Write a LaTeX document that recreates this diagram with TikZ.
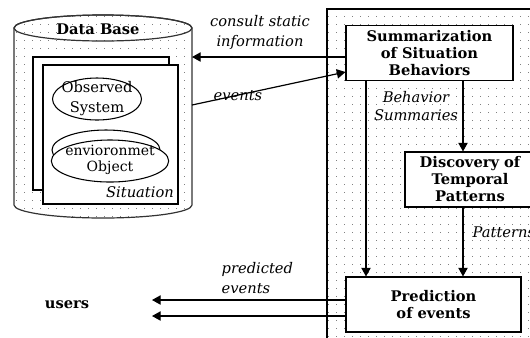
\documentclass[tikz,border=0pt]{standalone}
\usepackage{fontspec}
\setmainfont{DejaVu Serif}
\usetikzlibrary{arrows.meta,patterns.meta,shapes.geometric,positioning}

\tikzdeclarepattern{
	name = sparse dots,
	type = uncolored,
	bottom left = {(0pt,0pt)},
	top right = {(0.8pt,0.8pt)},
	tile size = {(6pt,6pt)},
	code = {\fill (0pt,0pt) rectangle (0.8pt,0.8pt);}
}

\tikzset{
	proc node/.style = {
		rectangle,
		draw = black,
		fill = white,
		line width = 0.8pt,
		align = center,
		font = \bfseries\fontsize{11}{12.75}\selectfont
	},
	page node/.style = {
		rectangle,
		draw = black,
		fill = white,
		line width = 0.8pt
	},
	db ellipse/.style = {
		ellipse,
		draw = black,
		fill = white,
		line width = 0.8pt,
		inner sep = 0pt
	},
	plain text/.style = {
		align = center,
		font = \fontsize{11}{15}\selectfont
	},
	note text/.style = {
		align = center,
		font = \itshape\fontsize{11}{15}\selectfont
	},
	flow/.style = {
		-{Triangle[length=6.5pt,width=7pt]},
		line width = 0.9pt
	}
}

\begin{document}
\begin{tikzpicture}[x=0.75pt, y=-0.75pt]
	\fill[white] (0,0) rectangle (530,337);
	\useasboundingbox (0,0) rectangle (530,337);

	% right panel
	\draw[line width=0.8pt, pattern=sparse dots, pattern color=gray] (327,9) rectangle (560,360);

	% data base cylinder
	\draw[gray!40!black, line width=0.9pt, pattern=sparse dots, pattern color=gray]
		(14,28) -- (14,205) arc[start angle=180, end angle=0, x radius=89, y radius=13]
		-- (192,28) arc[start angle=0, end angle=-180, x radius=89, y radius=13] -- cycle;
	\draw[gray!40!black, line width=0.9pt] (103,28) ellipse [x radius=89, y radius=13];
	\node at (98,29) [font=\bfseries\fontsize{11}{13}\selectfont] (dbname) {Data Base};
	\coordinate (db consult) at (192,57);
	\coordinate (db events) at (192,105);

	\node at (101,123.5)  [page node, minimum width=102pt, minimum height=99.75pt] (page back) {};
	\node at (110.5,134.5) [page node, minimum width=101.25pt, minimum height=104.25pt] (page front) {};
	\node at (97,99)   [db ellipse, minimum width=66.75pt, minimum height=31.5pt] (obs) {};
	\node at (obs)     [plain text] (obs text) {Observed\\System};
	\node at (106,150) [db ellipse, minimum width=81pt, minimum height=30pt] (env back) {};
	\node at (110,161) [db ellipse, minimum width=88pt, minimum height=31.5pt] (env) {};
	\node at (110,160) [plain text, font=\fontsize{10.5}{12}\selectfont] (env text) {envioronmet\\Object};
	\node at (140,192) [note text] (sit) {Situation};

	% processes
	\node at (429.5,53)  [proc node, minimum width=125.25pt, minimum height=39pt] (summ) {Summarization\\of Situation\\Behaviors};
	\node at (470,179.5) [proc node, minimum width=97.5pt, minimum height=41.25pt] (disc) {Discovery of\\Temporal\\Patterns};
	\node at (433.5,304.5) [proc node, minimum width=131.25pt, minimum height=41.25pt] (pred) {Prediction\\of events};
	\node at (67,305) [font=\bfseries\fontsize{11}{13}\selectfont] (users) {users};
	\coordinate (users a) at (152,300);
	\coordinate (users b) at (152,316);

	% flows
	\draw[flow] (summ.west |- db consult) -- (db consult);
	\draw[flow] (db events) -- (summ.west |- 0,72);
	\draw[flow] (summ.south -| 366,0) -- (pred.north -| 366,0);
	\draw[flow] (summ.south -| 463,0) -- (disc.north -| 463,0);
	\draw[flow] (disc.south -| 463,0) -- (pred.north -| 463,0);
	\draw[flow] (pred.west |- users a) -- (users a);
	\draw[flow] (pred.west |- users b) -- (users b);

	% labels
	\node at (260,32)  [note text] (consult lbl) {consult static\\information};
	\node at (238,96)  [note text] (events lbl) {events};
	\node at (416,106) [note text, font=\itshape\fontsize{11}{13}\selectfont] (summ lbl) {Behavior\\Summaries};
	\node at (468,232) [note text, anchor=west] (pat lbl) {Patterns};
	\node at (217,278) [note text, align=left, anchor=west] (pred lbl) {predicted\\events};
\end{tikzpicture}
\end{document}
